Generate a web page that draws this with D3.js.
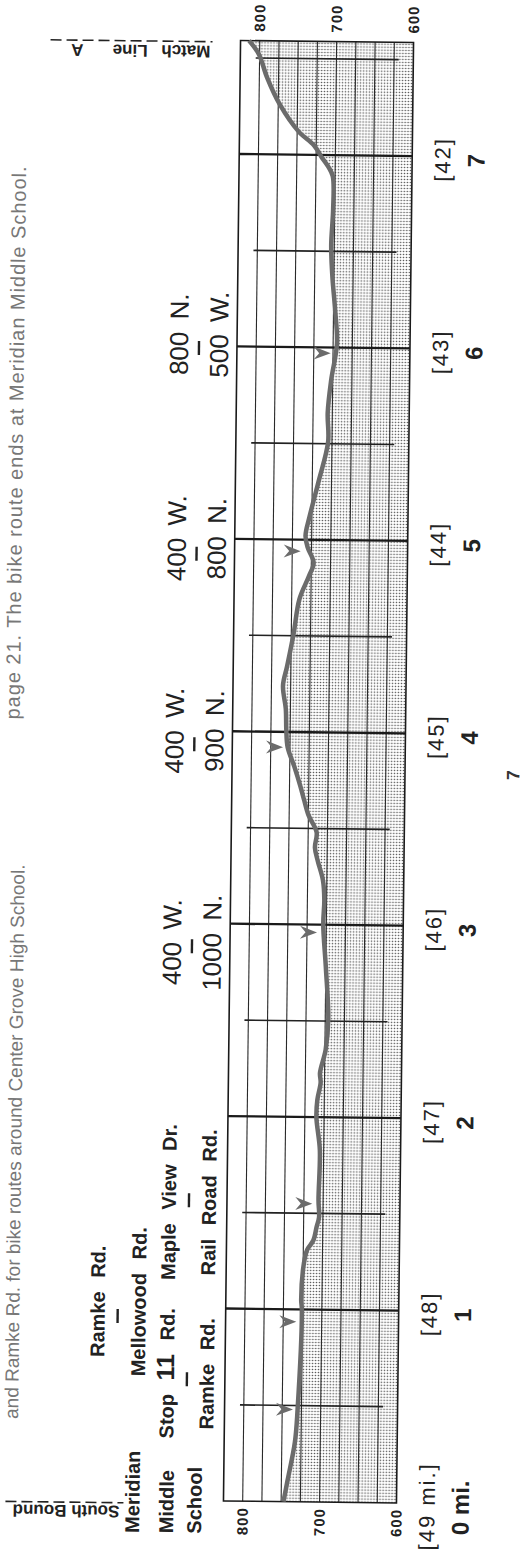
<!DOCTYPE html>
<html>
<head>
<meta charset="utf-8">
<script src="https://cdn.jsdelivr.net/npm/d3@7"></script>
<style>
  body { margin: 0; background: #fff; }
  svg { display: block; font-family: "Liberation Sans", Arial, Helvetica, sans-serif; }
</style>
</head>
<body>
<svg id="chart" width="529" height="1556"></svg>
<script>
// elevation profile, drawn on its side (miles run bottom -> top)
const profileMiles = [0, 0.11, 0.31, 0.48, 1.0, 1.05, 1.24, 1.31, 1.36, 1.43, 1.48, 1.57, 1.83, 2.0, 2.09, 2.18, 2.23, 2.35, 2.51, 2.78,
    3.0, 3.13, 3.23, 3.33, 3.40, 3.48, 3.57, 3.65, 3.72, 3.82, 3.92, 4.01, 4.12, 4.24, 4.34, 4.51, 4.69, 4.81, 4.88, 4.96,
    5.02, 5.12, 5.30, 5.51, 5.66, 5.83, 6.02, 6.20, 6.37, 6.53, 6.72, 6.89, 6.94, 6.99, 7.05, 7.12, 7.26, 7.40, 7.52, 7.59];
const profileElev = [747, 742, 733, 730, 726, 727, 724, 720, 712, 708, 705, 706, 705, 710, 709, 705, 706, 699, 696, 700,
    704, 703, 705, 712, 716, 714, 725, 731, 736, 744, 753, 755, 756, 760, 755, 747, 740, 728, 722, 730,
    733, 728, 717, 705, 706, 702, 695, 698, 702, 704, 702, 703, 709, 718, 728, 748, 773, 790, 801, 814];

// direction arrows (mile, elevation of the tip)
const arrowMiles = [0.48, 0.935, 1.55, 2.96, 3.92, 4.94, 5.97];
const arrowElev = [736, 733, 714, 712, 759, 739, 703];

const elevLabels = [800, 700, 600];
const gridElev = [800, 775, 750, 725, 700, 675, 650, 625];
const majorMiles = [1, 2, 3, 4, 5, 6, 7];
const minorMiles = [0.5, 1.5, 2.5, 3.5, 4.5, 5.5, 6.5, 7.5];

const segmentLabels = ["[49 mi.]", "[48]", "[47]", "[46]", "[45]", "[44]", "[43]", "[42]"];
const mileLabels = ["0 mi.", "1", "2", "3", "4", "5", "6", "7"];

// road crossings: first line, second line, mile, dash mile, bold, tier
const roadTop = ["Stop 11 Rd.", "Ramke Rd.", "Maple View Dr.", "400 W.", "400 W.", "400 W.", "800 N."];
const roadBottom = ["Ramke Rd.", "Mellowood Rd.", "Rail Road Rd.", "1000 N.", "900 N.", "800 N.", "500 W."];
const roadMiles = [0.66, 1.03, 1.55, 2.9, 4.0, 5.0, 6.06];
const roadDashMiles = [0.63, 0.955, 1.56, 2.88, 3.93, 4.92, 5.99];
const roadBold = [true, true, true, false, false, false, false];
const roadTier = [1, 0, 1, 1, 1, 1, 1];

const startLabels = ["Meridian", "Middle", "School"];

let dimensions = {
    left: 232, right: 405, bottom: 1502, mileTop: 7.59,
    tilt: 0.67, cx: 318.5, cy: 772
};

var svg = d3.select("#chart");

var defs = svg.append("defs");
var pat = defs.append("pattern")
    .attr("id", "dots")
    .attr("patternUnits", "userSpaceOnUse")
    .attr("width", 3).attr("height", 3);
pat.append("rect").attr("width", 3).attr("height", 3).attr("fill", "#fff");
pat.append("circle").attr("cx", 1.5).attr("cy", 1.5).attr("r", 0.8).attr("fill", "#555");

// the scan is a little off square, so the whole page is turned a bit
var page = svg.append("g")
    .attr("transform", `rotate(${dimensions.tilt},${dimensions.cx},${dimensions.cy})`);

var x = d3.scaleLinear()
    .domain([825, 600])
    .range([dimensions.left, dimensions.right]);

var y = d3.scaleLinear()
    .domain([0, 7])
    .range([dimensions.bottom, dimensions.bottom - 7 * 192.43]);

const frameTop = y(dimensions.mileTop);

const profile = profileMiles.map((m, i) => ({mi: m, elev: profileElev[i]}));
const curve = d3.curveCatmullRom.alpha(0.5);

// stippled ground
page.append("path")
    .datum(profile)
    .attr("fill", "url(#dots)")
    .attr("d", d3.area()
        .curve(curve)
        .y(d => y(d.mi))
        .x0(x(600))
        .x1(d => x(d.elev)));

// grid
page.append("g").selectAll("line")
    .data(gridElev)
    .join("line")
    .attr("x1", d => x(d)).attr("x2", d => x(d))
    .attr("y1", frameTop).attr("y2", y(0))
    .attr("stroke", "#2a2a2a").attr("stroke-width", 1.1);

page.append("g").selectAll("line")
    .data(minorMiles)
    .join("line")
    .attr("x1", x(805)).attr("x2", x(619))
    .attr("y1", d => y(d)).attr("y2", d => y(d))
    .attr("stroke", "#222").attr("stroke-width", 1.6);

page.append("g").selectAll("line")
    .data(majorMiles)
    .join("line")
    .attr("x1", x(825)).attr("x2", x(600))
    .attr("y1", d => y(d)).attr("y2", d => y(d))
    .attr("stroke", "#1a1a1a").attr("stroke-width", 2.3);

page.append("rect")
    .attr("x", x(825)).attr("y", frameTop)
    .attr("width", x(600) - x(825)).attr("height", y(0) - frameTop)
    .attr("fill", "none").attr("stroke", "#1a1a1a").attr("stroke-width", 1.6);

// route profile
page.append("path")
    .datum(profile)
    .attr("fill", "none")
    .attr("stroke", "#6b6b6b")
    .attr("stroke-width", 4.5)
    .attr("d", d3.line()
        .curve(curve)
        .x(d => x(d.elev))
        .y(d => y(d.mi)));

// arrows point at the line
page.append("g").selectAll("path")
    .data(arrowMiles.map((m, i) => [m, arrowElev[i]]))
    .join("path")
    .attr("transform", d => `translate(${x(d[1])},${y(d[0])})`)
    .attr("d", "M0,0 L-17,-6.5 L-11.5,0 L-17,6.5 Z")
    .attr("fill", "#6b6b6b");

function vtext(g, px, py, str, anchor) {
    return g.append("text")
        .attr("transform", `translate(${px},${py}) rotate(-90)`)
        .attr("text-anchor", anchor)
        .attr("dy", "0.35em")
        .text(str);
}

// elevation labels, above and below
elevLabels.forEach(v => {
    vtext(page, x(v), frameTop - 9, v, "start")
        .attr("font-size", 15).attr("font-weight", "bold").attr("letter-spacing", 1).attr("fill", "#222");
    vtext(page, x(v), y(0) + 6, v, "end")
        .attr("font-size", 15).attr("font-weight", "bold").attr("letter-spacing", 1).attr("fill", "#222");
});

// segment and mile labels on the right
segmentLabels.forEach((s, i) => {
    vtext(page, 435.5, y(i) + 3, s, "middle")
        .attr("font-size", 22).attr("letter-spacing", 2).attr("fill", "#222");
    vtext(page, 469, y(i) + 4, mileLabels[i], "middle")
        .attr("font-size", 24).attr("font-weight", "bold").attr("fill", "#222");
});

// road names on the left
const tierCols = [[104, 124, 145], [174, 194, 214]];
roadTop.forEach((s, i) => {
    const cols = tierCols[roadTier[i]];
    const size = roadBold[i] ? 20 : 26;
    const weight = roadBold[i] ? "bold" : "normal";
    const ws = roadBold[i] ? 8 : 5;
    let t = vtext(page, cols[0], y(roadMiles[i]), "", "middle")
        .attr("font-size", size).attr("font-weight", weight).attr("word-spacing", ws).attr("fill", "#222");
    if (s.indexOf("11") >= 0) {
        t.append("tspan").text("Stop ");
        t.append("tspan").attr("font-size", 25).text("11");
        t.append("tspan").text(" Rd.");
    } else {
        t.text(s);
    }
    vtext(page, cols[2], y(roadMiles[i]), roadBottom[i], "middle")
        .attr("font-size", size).attr("font-weight", weight).attr("word-spacing", ws).attr("fill", "#222");
    page.append("line")
        .attr("x1", cols[1]).attr("x2", cols[1])
        .attr("y1", y(roadDashMiles[i]) - 7).attr("y2", y(roadDashMiles[i]) + 7)
        .attr("stroke", "#222").attr("stroke-width", 2.4);
});

[141, 175, 203].forEach((cx, i) => {
    vtext(page, cx, y(0) + 33, startLabels[i], "start")
        .attr("font-size", 20).attr("font-weight", "bold").attr("fill", "#222");
});

// match lines, printed upside down
function flipText(px, py, str) {
    return page.append("text")
        .attr("transform", `translate(${px},${py}) rotate(180)`)
        .attr("text-anchor", "start")
        .attr("font-size", 17).attr("font-weight", "bold").attr("fill", "#222")
        .text(str);
}
flipText(202, 47, "Match Line").attr("word-spacing", 9);
flipText(75, 47, "A");
page.append("line")
    .attr("x1", 42).attr("x2", 204).attr("y1", 43).attr("y2", 43)
    .attr("stroke", "#222").attr("stroke-width", 1.6).attr("stroke-dasharray", "11,5");

flipText(128, 1508, "South Bound");
page.append("line")
    .attr("x1", 14).attr("x2", 132).attr("y1", 1505).attr("y2", 1505)
    .attr("stroke", "#222").attr("stroke-width", 1.6).attr("stroke-dasharray", "11,5");

// bits of the book's running text
vtext(page, 12, 723, "page 21. The bike route ends at Meridian Middle School.", "start")
    .attr("font-size", 20).attr("fill", "#777").attr("textLength", 553).attr("lengthAdjust", "spacing");
vtext(page, 19, 868, "and Ramke Rd. for bike routes around Center Grove High School.", "end")
    .attr("font-size", 19).attr("fill", "#777");
vtext(page, 513, 773, "7", "middle")
    .attr("font-size", 18).attr("font-weight", "bold").attr("fill", "#333");
</script>
</body>
</html>
